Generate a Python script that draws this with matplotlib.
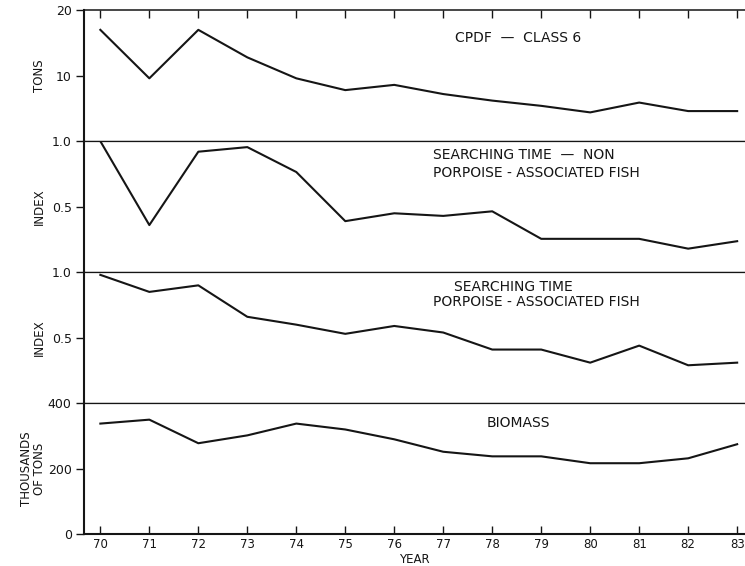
import matplotlib
matplotlib.use('Agg')
import matplotlib.pyplot as plt

years = list(range(70, 84))
cpdf_tons = [17.0, 9.6, 17.0, 12.8, 9.6, 7.8, 8.6, 7.2, 6.2, 5.4, 4.4, 5.9, 4.6, 4.6]
search_non = [1.0, 0.36, 0.92, 0.955, 0.765, 0.39, 0.45, 0.43, 0.465, 0.255, 0.255, 0.255, 0.18, 0.237]
search_porp = [0.98, 0.85, 0.90, 0.66, 0.60, 0.53, 0.59, 0.54, 0.41, 0.41, 0.31, 0.44, 0.29, 0.31]
biomass = [338, 350, 278, 302, 338, 320, 290, 252, 238, 238, 217, 217, 232, 275]

panels = [
    (cpdf_tons, (0, 20), [10, 20], ['10', '20'], 'TONS'),
    (search_non, (0, 1.0), [0.5, 1.0], ['0.5', '1.0'], 'INDEX'),
    (search_porp, (0, 1.0), [0.5, 1.0], ['0.5', '1.0'], 'INDEX'),
    (biomass, (0, 400), [0, 200, 400], ['0', '200', '400'], 'THOUSANDS\nOF TONS'),
]

plt.rcParams.update({'font.family': 'DejaVu Sans', 'font.size': 9})
ink = '#151515'

fig = plt.figure(figsize=(7.45, 5.66), dpi=100)
gs = fig.add_gridspec(4, 1, left=0.113, right=1.0, top=0.982, bottom=0.056, hspace=0)
axes = [fig.add_subplot(gs[i]) for i in range(4)]

for i, (ax, (vals, ylim, yt, ytl, ylab)) in enumerate(zip(axes, panels)):
    ax.plot(years, vals, color=ink, lw=1.5)
    ax.set_xlim(69.67, 83.16)
    ax.set_ylim(*ylim)
    ax.set_yticks(yt)
    ax.set_yticklabels(ytl)
    ax.spines['right'].set_visible(False)
    for s in ('left', 'top', 'bottom'):
        ax.spines[s].set_color(ink)
    ax.spines['left'].set_linewidth(1.5)
    ax.spines['top'].set_linewidth(1.1 if i == 0 else 0.9)
    ax.spines['bottom'].set_linewidth(0.9 if i < 3 else 1.5)
    ax.tick_params(axis='y', direction='out', length=6, width=1.0, colors=ink, pad=3, labelsize=9)
    if i == 0:
        ax.tick_params(axis='x', top=True, bottom=False, labeltop=False, labelbottom=False,
                       direction='in', length=6, width=1.0, colors=ink)
    elif i == 3:
        ax.tick_params(axis='x', top=False, bottom=True, labelbottom=True,
                       direction='in', length=6, width=1.0, colors=ink, pad=3, labelsize=8.5)
    else:
        ax.tick_params(axis='x', top=False, bottom=False, labelbottom=False)
    ax.set_xticks(years)
    ax.set_ylabel(ylab, fontsize=8.5, color=ink, linespacing=1.0)
    ax.yaxis.set_label_coords(-0.058, 0.5)

axes[3].set_xlabel('YEAR', fontsize=8.5, color=ink, labelpad=1)

tsize = 10
axes[0].text(0.657, 0.79, 'CPDF  \u2014  CLASS 6', transform=axes[0].transAxes,
             ha='center', va='center', fontsize=tsize, color=ink)
axes[1].text(0.528, 0.825, 'SEARCHING TIME  \u2014  NON\nPORPOISE - ASSOCIATED FISH',
             transform=axes[1].transAxes, ha='left', va='center',
             fontsize=tsize, color=ink, linespacing=1.3)
axes[2].text(0.560, 0.89, 'SEARCHING TIME', transform=axes[2].transAxes,
             ha='left', va='center', fontsize=tsize, color=ink)
axes[2].text(0.528, 0.77, 'PORPOISE - ASSOCIATED FISH', transform=axes[2].transAxes,
             ha='left', va='center', fontsize=tsize, color=ink)
axes[3].text(0.657, 0.85, 'BIOMASS', transform=axes[3].transAxes,
             ha='center', va='center', fontsize=tsize, color=ink)

fig.savefig('out.png', dpi=100)
